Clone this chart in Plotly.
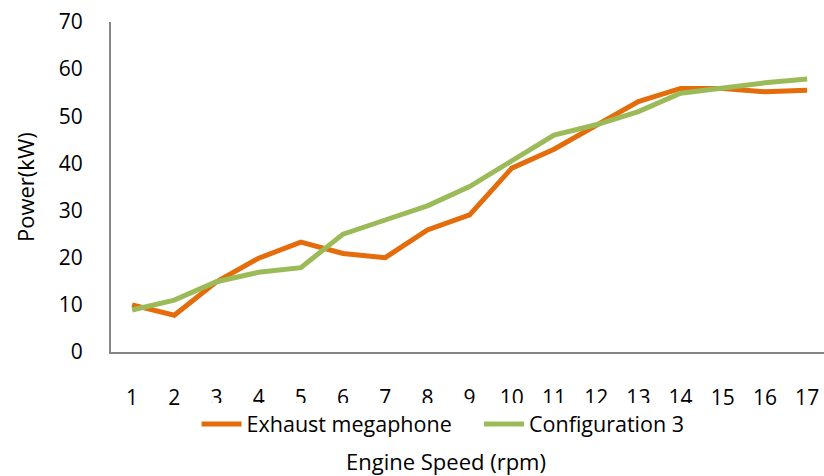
import plotly.graph_objects as go

speed = list(range(1, 18))
exhaust = [10.0, 7.8, 14.9, 19.9, 23.3, 20.9, 20.0, 25.9, 29.1, 39.0, 43.0, 48.2, 53.1, 55.9, 55.9, 55.2, 55.5]
config3 = [8.9, 11.0, 14.9, 16.9, 17.9, 25.0, 28.0, 31.0, 35.1, 40.4, 46.0, 48.2, 51.0, 54.9, 56.0, 57.1, 57.9]

FONT = "Open Sans"
fig = go.Figure()
fig.add_trace(go.Scatter(x=speed, y=exhaust, mode="lines",
                         name="Exhaust megaphone" + "\u00a0" * 4,
                         line=dict(color="#E46C0A", width=5)))
fig.add_trace(go.Scatter(x=speed, y=config3, mode="lines", name="Configuration 3",
                         line=dict(color="#9BBB59", width=5)))

fig.update_layout(
    width=824, height=476,
    margin=dict(l=111, r=0, t=22, b=124),
    paper_bgcolor="white", plot_bgcolor="white",
    font=dict(family=FONT, size=21, color="black"),
    showlegend=True,
    legend=dict(orientation="h", x=0.12, xanchor="left", y=-0.218, yanchor="middle",
                font=dict(size=21.5, color="black"), itemwidth=40, tracegroupgap=0),
    xaxis=dict(range=[0.5, 17.4], tickmode="array", tickvals=speed,
               ticktext=[str(s) for s in speed], showgrid=False, zeroline=False,
               showline=True, linecolor="#868686", linewidth=2, ticks="",
               ticklabelstandoff=26, tickfont=dict(size=21, color="black")),
    yaxis=dict(range=[0, 70], dtick=10, showgrid=False, zeroline=False,
               showline=True, linecolor="#868686", linewidth=2, ticks="",
               ticklabelstandoff=22, tickfont=dict(size=21, color="black")),
    annotations=[
        dict(text="Engine Speed (rpm)", xref="paper", yref="paper", x=0.47, y=-0.33,
             xanchor="center", yanchor="middle", showarrow=False,
             font=dict(size=22, color="black")),
        dict(text="Power(kW)", xref="paper", yref="paper", x=-0.1206, y=0.5, textangle=-90,
             xanchor="center", yanchor="middle", showarrow=False,
             font=dict(size=22, color="black")),
    ],
)
fig.write_html("out.html")
